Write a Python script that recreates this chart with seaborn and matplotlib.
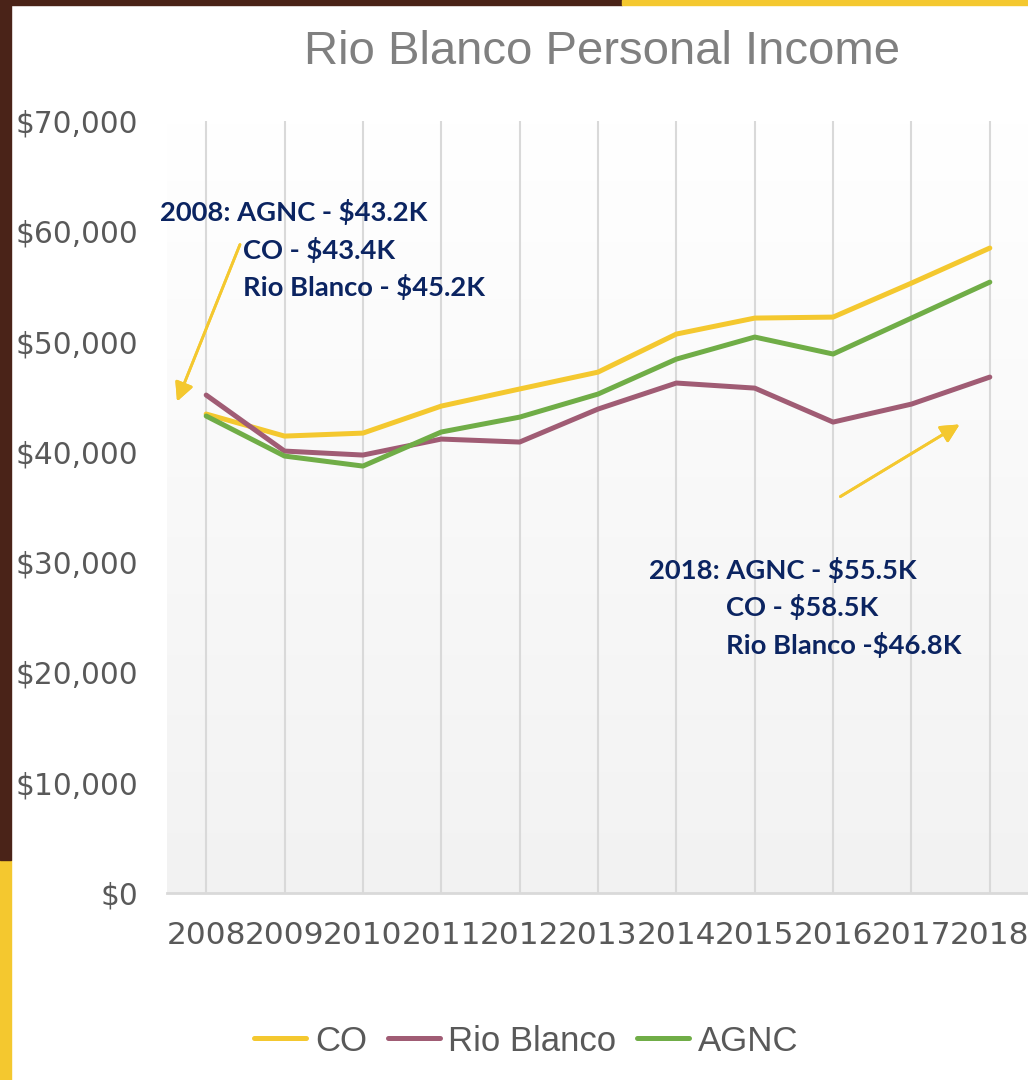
import numpy as np
import pandas as pd
import matplotlib.pyplot as plt
import seaborn as sns
from matplotlib.patches import Rectangle
from matplotlib.ticker import FuncFormatter

years = [2008, 2009, 2010, 2011, 2012, 2013, 2014, 2015, 2016, 2017, 2018]
co = [43430, 41430, 41700, 44150, 45700, 47230, 50680, 52130, 52220, 55300, 58480]
rio_blanco = [45150, 40070, 39710, 41160, 40890, 43880, 46240, 45780, 42700, 44330, 46780]
agnc = [43250, 39620, 38710, 41800, 43150, 45240, 48410, 50410, 48870, 52130, 55390]
series_names = ['CO', 'Rio Blanco', 'AGNC']
colors = ['#F4C82F', '#A05C74', '#70AD47']

df = pd.DataFrame({
    'year': years * 3,
    'income': co + rio_blanco + agnc,
    'series': [s for s in series_names for _ in years],
})

sns.set_style('white')
plt.rcParams['font.family'] = ['DejaVu Sans']

fig = plt.figure(figsize=(10.28, 10.8), dpi=100)
W, H = 1028, 1080

# frame bars
fig.patches.append(Rectangle((0, 0), 11 / W, 220 / H, transform=fig.transFigure, color='#F4C82F', zorder=0))
fig.patches.append(Rectangle((0, 220 / H), 11 / W, 1, transform=fig.transFigure, color='#4A2318', zorder=0))
fig.patches.append(Rectangle((0, 1 - 5 / H), 622 / W, 5 / H, transform=fig.transFigure, color='#4A2318', zorder=0))
fig.patches.append(Rectangle((622 / W, 1 - 5 / H), 1, 5 / H, transform=fig.transFigure, color='#F4C82F', zorder=0))

ax = fig.add_axes([167 / W, (H - 893) / H, (1029 - 167) / W, (893 - 121) / H])

# background gradient
grad = np.linspace(1.0, 0.949, 256).reshape(-1, 1)
ax.imshow(np.dstack([grad, grad, grad]), extent=[0, 1, 0, 1], transform=ax.transAxes,
          aspect='auto', zorder=0)

sns.lineplot(data=df, x='year', y='income', hue='series', hue_order=series_names,
             palette=colors, linewidth=3.6, ax=ax, zorder=3)

ax.set_xlim(2007.5, 2018.5)
ax.set_ylim(0, 70000)
ax.set_xticks(years)
ax.set_yticks(range(0, 70001, 10000))
ax.yaxis.set_major_formatter(FuncFormatter(lambda v, p: f'${v:,.0f}'))
ax.grid(False)
for yr in years:
    ax.axvline(yr, color='#D9D9D9', linewidth=1.5, zorder=1)
for s in ['top', 'right', 'left']:
    ax.spines[s].set_visible(False)
ax.spines['bottom'].set_color('#D9D9D9')
ax.spines['bottom'].set_linewidth(2)
ax.tick_params(axis='both', length=0, labelcolor='#595959')
ax.tick_params(axis='y', pad=21, labelsize=21.3)
ax.tick_params(axis='x', pad=20, labelsize=22.5)
ax.set_xlabel('')
ax.set_ylabel('')

leg = ax.legend(loc='center', bbox_to_anchor=(0.512, 0.036), bbox_transform=fig.transFigure,
                ncol=3, frameon=False, handlelength=1.5, handletextpad=0.25, columnspacing=0.6,
                prop={'family': 'Liberation Sans', 'size': 25})
for t in leg.get_texts():
    t.set_color('#595959')
for l in leg.get_lines():
    l.set_linewidth(3.6)

fig.text(0.586, 1 - 52 / H, 'Rio Blanco Personal Income', ha='center', va='center',
         fontsize=34, color='#808080', family='Liberation Sans')

navy = '#0B2461'
afont = dict(family='Lato', weight='bold', fontsize=19.7, color=navy, va='center', ha='left')
fig.text(160 / W, 1 - 212 / H, '2008: AGNC - $43.2K', **afont)
fig.text(243 / W, 1 - 250 / H, 'CO - $43.4K', **afont)
fig.text(243 / W, 1 - 287 / H, 'Rio Blanco - $45.2K', **afont)
fig.text(649 / W, 1 - 570 / H, '2018: AGNC - $55.5K', **afont)
fig.text(726 / W, 1 - 607 / H, 'CO - $58.5K', **afont)
fig.text(726 / W, 1 - 645 / H, 'Rio Blanco -$46.8K', **afont)

arrow = dict(arrowstyle='-|>', color='#F4C82F', lw=2, mutation_scale=28)
fig.add_artist(plt.annotate('', xy=(176 / W, 1 - 404 / H), xytext=(241 / W, 1 - 242 / H),
                            xycoords='figure fraction', arrowprops=arrow))
fig.add_artist(plt.annotate('', xy=(962 / W, 1 - 423 / H), xytext=(838 / W, 1 - 498 / H),
                            xycoords='figure fraction', arrowprops=arrow))

fig.savefig('out.png', dpi=100)
